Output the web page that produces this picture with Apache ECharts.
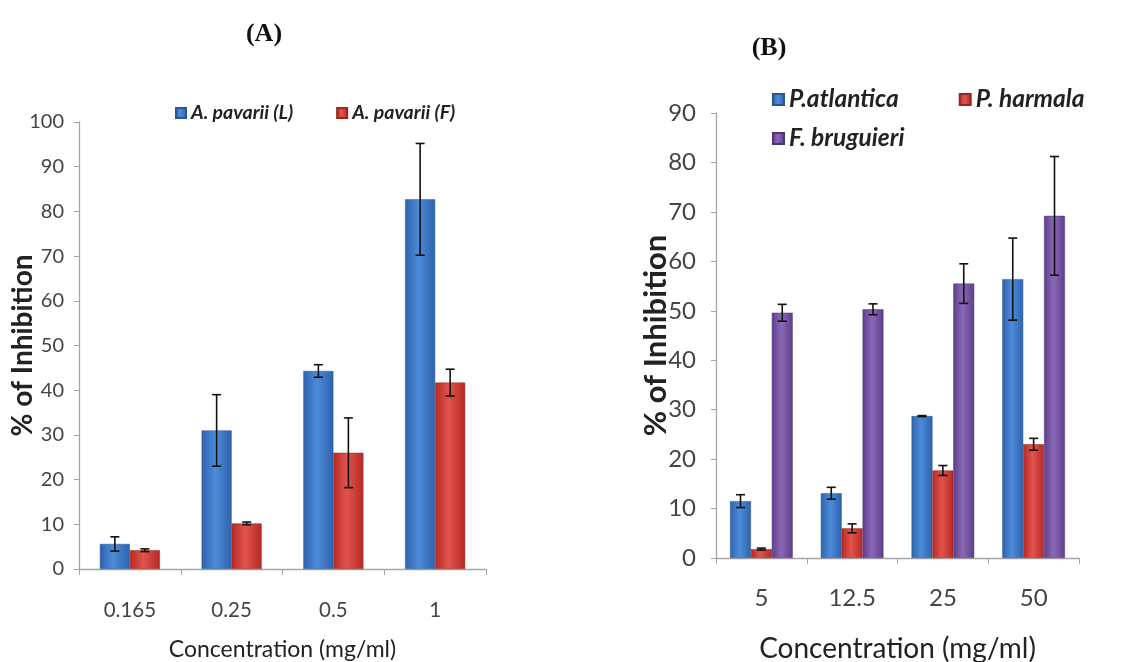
<!DOCTYPE html>
<html>
<head>
<meta charset="utf-8">
<script src="https://cdn.jsdelivr.net/npm/echarts@6/dist/echarts.min.js"></script>
<style>
html,body{margin:0;padding:0;background:#fff;}
#c{width:1132px;height:662px;}
</style>
</head>
<body>
<div id="c"></div>
<script>
// ---- Panel A data ----
const catsA = ['0.165', '0.25', '0.5', '1'];
const namesA = ['A. pavarii (L)', 'A. pavarii (F)'];
const valA_L = [5.6, 31.0, 44.3, 82.7];
const errA_L = [1.6, 8.0, 1.4, 12.5];
const valA_F = [4.2, 10.2, 26.0, 41.7];
const errA_F = [0.3, 0.3, 7.8, 3.0];
const ticksA = { min: 0, max: 100, interval: 10 };

// ---- Panel B data ----
const catsB = ['5', '12.5', '25', '50'];
const namesB = ['P.atlantica', 'P. harmala', 'F. bruguieri'];
const valB_PA = [11.5, 13.1, 28.7, 56.4];
const errB_PA = [1.3, 1.2, 0.1, 8.3];
const valB_PH = [1.8, 6.0, 17.7, 23.0];
const errB_PH = [0.2, 0.9, 1.0, 1.2];
const valB_FB = [49.6, 50.3, 55.5, 69.2];
const errB_FB = [1.7, 1.1, 4.0, 12.0];
const ticksB = { min: 0, max: 90, interval: 10 };

const FONT = 'Lato, "Open Sans", sans-serif';

function grad(dark, light) {
  return new echarts.graphic.LinearGradient(0, 0, 1, 0, [
    { offset: 0, color: dark },
    { offset: 0.45, color: light },
    { offset: 1, color: dark }
  ]);
}
const blue = grad('#2f62ab', '#4c8cda');
const red = grad('#b52a25', '#e2534c');
const purple = grad('#5e3f8a', '#8a68b8');

function errSeries(xi, yi, vals, errs, idx, n, gap) {
  return {
    type: 'custom',
    xAxisIndex: xi, yAxisIndex: yi,
    z: 10,
    silent: true,
    data: vals.map((v, i) => [i, v - errs[i], v + errs[i]]),
    renderItem: function (params, api) {
      const catW = api.size([1, 0])[0];
      const bw = catW * (1 - gap) / n;
      const off = -bw * n / 2 + bw * (idx + 0.5);
      const lo = api.coord([api.value(0), api.value(1)]);
      const hi = api.coord([api.value(0), api.value(2)]);
      const x = lo[0] + off;
      const cap = 4.5;
      const st = { stroke: '#111', lineWidth: 1.6 };
      return {
        type: 'group',
        children: [
          { type: 'line', shape: { x1: x, y1: lo[1], x2: x, y2: hi[1] }, style: st },
          { type: 'line', shape: { x1: x - cap, y1: lo[1], x2: x + cap, y2: lo[1] }, style: st },
          { type: 'line', shape: { x1: x - cap, y1: hi[1], x2: x + cap, y2: hi[1] }, style: st }
        ]
      };
    }
  };
}

const gapA = 0.41, gapB = 0.31;

const axisLineStyle = { lineStyle: { color: '#a6a6a6', width: 1.3 } };

const chart = echarts.init(document.getElementById('c'), null, { renderer: 'canvas' });
chart.setOption({
  backgroundColor: '#ffffff',
  animation: false,
  title: [
    { text: '(A)', left: 259, top: 16, textAlign: 'center',
      textStyle: { fontFamily: '"Liberation Serif", serif', fontWeight: 'bold', fontSize: 26, color: '#111' } },
    { text: '(B)', left: 764, top: 30, textAlign: 'center',
      textStyle: { fontFamily: '"Liberation Serif", serif', fontWeight: 'bold', fontSize: 26, color: '#111' } }
  ],
  legend: [
    { data: namesA, left: 170, top: 98, itemWidth: 10, itemHeight: 10, itemGap: 43, icon: 'rect',
      textStyle: { fontFamily: FONT, fontStyle: 'italic', fontWeight: 'bold', fontSize: 19.5, color: '#222' } },
    { data: namesB.slice(0, 2), left: 767, top: 82, itemWidth: 11, itemHeight: 11, itemGap: 60, icon: 'rect',
      textStyle: { fontFamily: FONT, fontStyle: 'italic', fontWeight: 'bold', fontSize: 24.5, color: '#222' } },
    { data: namesB.slice(2), left: 767, top: 121, itemWidth: 11, itemHeight: 11, icon: 'rect',
      textStyle: { fontFamily: FONT, fontStyle: 'italic', fontWeight: 'bold', fontSize: 24.5, color: '#222' } }
  ],
  grid: [
    { left: 79, top: 122, width: 407, height: 447, containLabel: false, outerBoundsMode: 'none' },
    { left: 716, top: 113, width: 363, height: 445, containLabel: false, outerBoundsMode: 'none' }
  ],
  xAxis: [
    { type: 'category', gridIndex: 0, data: catsA,
      axisLine: axisLineStyle, axisTick: { show: true, length: 6, lineStyle: { color: '#a6a6a6' } },
      axisLabel: { fontFamily: FONT, fontSize: 20.5, color: '#444', margin: 31 },
      name: 'Concentration (mg/ml)', nameLocation: 'middle', nameGap: 69, nameMoveOverlap: false,
      nameTextStyle: { fontFamily: FONT, fontSize: 23, color: '#222' } },
    { type: 'category', gridIndex: 1, data: catsB,
      axisLine: axisLineStyle, axisTick: { show: true, length: 6, lineStyle: { color: '#a6a6a6' } },
      axisLabel: { fontFamily: FONT, fontSize: 24, color: '#444', margin: 28 },
      name: 'Concentration (mg/ml)', nameLocation: 'middle', nameGap: 77, nameMoveOverlap: false,
      nameTextStyle: { fontFamily: FONT, fontSize: 28, color: '#222' } }
  ],
  yAxis: [
    { type: 'value', gridIndex: 0, min: ticksA.min, max: ticksA.max, interval: ticksA.interval,
      axisLine: { show: true, lineStyle: { color: '#a6a6a6', width: 1.3 } },
      axisTick: { show: true, length: 5, lineStyle: { color: '#a6a6a6' } },
      splitLine: { show: false },
      axisLabel: { fontFamily: FONT, fontSize: 20, color: '#444', margin: 15 },
      name: '% of Inhibition', nameLocation: 'middle', nameGap: 42, nameRotate: 90, nameMoveOverlap: false,
      nameTextStyle: { fontFamily: FONT, fontSize: 28, fontWeight: 'bold', color: '#222' } },
    { type: 'value', gridIndex: 1, min: ticksB.min, max: ticksB.max, interval: ticksB.interval,
      axisLine: { show: true, lineStyle: { color: '#a6a6a6', width: 1.3 } },
      axisTick: { show: true, length: 5, lineStyle: { color: '#a6a6a6' } },
      splitLine: { show: false },
      axisLabel: { fontFamily: FONT, fontSize: 24, color: '#444', margin: 20 },
      name: '% of Inhibition', nameLocation: 'middle', nameGap: 45, nameRotate: 90, nameMoveOverlap: false,
      nameTextStyle: { fontFamily: FONT, fontSize: 31, fontWeight: 'bold', color: '#222' } }
  ],
  series: [
    { name: namesA[0], type: 'bar', xAxisIndex: 0, yAxisIndex: 0, data: valA_L,
      barGap: '0%', barCategoryGap: (gapA * 100) + '%', itemStyle: { color: blue, borderColor: '#2a5590', borderWidth: 0.5 } },
    { name: namesA[1], type: 'bar', xAxisIndex: 0, yAxisIndex: 0, data: valA_F,
      barGap: '0%', barCategoryGap: (gapA * 100) + '%', itemStyle: { color: red, borderColor: '#9a2420', borderWidth: 0.5 } },
    { name: namesB[0], type: 'bar', xAxisIndex: 1, yAxisIndex: 1, data: valB_PA,
      barGap: '0%', barCategoryGap: (gapB * 100) + '%', itemStyle: { color: blue, borderColor: '#2a5590', borderWidth: 0.5 } },
    { name: namesB[1], type: 'bar', xAxisIndex: 1, yAxisIndex: 1, data: valB_PH,
      barGap: '0%', barCategoryGap: (gapB * 100) + '%', itemStyle: { color: red, borderColor: '#9a2420', borderWidth: 0.5 } },
    { name: namesB[2], type: 'bar', xAxisIndex: 1, yAxisIndex: 1, data: valB_FB,
      barGap: '0%', barCategoryGap: (gapB * 100) + '%', itemStyle: { color: purple, borderColor: '#4e3475', borderWidth: 0.5 } },
    errSeries(0, 0, valA_L, errA_L, 0, 2, gapA),
    errSeries(0, 0, valA_F, errA_F, 1, 2, gapA),
    errSeries(1, 1, valB_PA, errB_PA, 0, 3, gapB),
    errSeries(1, 1, valB_PH, errB_PH, 1, 3, gapB),
    errSeries(1, 1, valB_FB, errB_FB, 2, 3, gapB)
  ]
});
</script>
</body>
</html>
